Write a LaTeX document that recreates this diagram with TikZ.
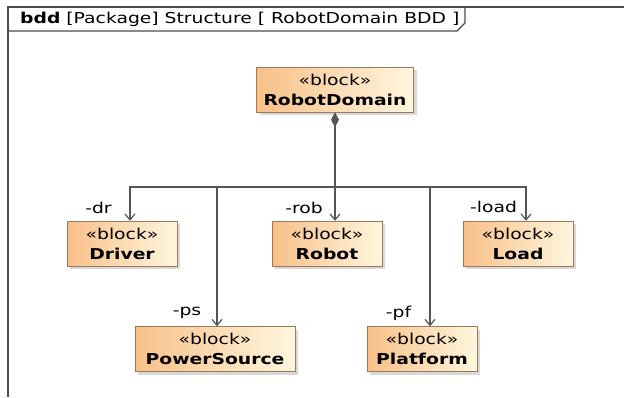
\documentclass[tikz,border=0pt]{standalone}
\usepackage{fontspec}
\setmainfont{DejaVu Sans}[FakeStretch=1.25]
\usetikzlibrary{arrows.meta,shadows}

\definecolor{blkleft}{HTML}{F8C088}
\definecolor{blkright}{HTML}{FFF6DE}
\definecolor{blkline}{HTML}{9A7A58}
\definecolor{wire}{HTML}{555555}

\begin{document}
\begin{tikzpicture}[x=1pt,y=-1pt,
    block/.style={draw=blkline, left color=blkleft, right color=blkright,
        minimum height=45pt, align=center, inner sep=2pt,
        drop shadow={shadow xshift=3pt, shadow yshift=-3pt, fill=black!30},
        font=\fontsize{15}{20}\selectfont},
    role/.style={font=\fontsize{15}{16}\selectfont, inner sep=0pt},
    arr/.style={draw=wire, line width=1.2pt, -{Straight Barb[length=6pt,width=10pt]}},
    comp/.style={draw=wire, line width=1.2pt, {Diamond[length=15pt,width=8pt]}-},
    frame/.style={draw=black!70, line width=1.3pt}]
    \useasboundingbox (0,0) rectangle (624,397);

    % frame and its tab
    \draw[frame] (8,397) -- (8,7) -- (624,7);
    \draw[frame] (8,31) -- (457,31) -- (465,23) -- (465,7);
    \node[anchor=base west, inner sep=0pt, font=\fontsize{15}{16}\selectfont] (hdr) at (20,23)
        {\textbf{bdd} [Package] Structure [ RobotDomain BDD ]};

    % blocks
    \node[block, minimum width=157pt] (dom) at (335,89.5) {«block»\\\textbf{RobotDomain}};
    \node[block, minimum width=110pt] (drv) at (122,243.5) {«block»\\\textbf{Driver}};
    \node[block, minimum width=110pt] (rob) at (327,243.5) {«block»\\\textbf{Robot}};
    \node[block, minimum width=110pt] (load) at (518,243.5) {«block»\\\textbf{Load}};
    \node[block, minimum width=160pt] (ps) at (215,349) {«block»\\\textbf{PowerSource}};
    \node[block, minimum width=110pt] (pf) at (422,349) {«block»\\\textbf{Platform}};

    \coordinate (bus) at (335,187);

    \draw[comp] (dom.south) -- (bus);
    \draw[arr] (bus) -| ([xshift=8pt]drv.north);
    \draw[arr] (bus) -- (bus |- rob.north);
    \draw[arr] (bus) -| ([xshift=8pt]load.north);
    \draw[arr] (bus) -| ([xshift=2pt]ps.north);
    \draw[arr] (bus) -| ([xshift=8pt]pf.north);

    % role names
    \node[role] (rdr) at (98.5,208) {-dr};
    \node[role] (rrob) at (304,208) {-rob};
    \node[role] (rload) at (493.5,207) {-load};
    \node[role] (rps) at (187,313) {-ps};
    \node[role] (rpf) at (398.5,313) {-pf};

\end{tikzpicture}
\end{document}
